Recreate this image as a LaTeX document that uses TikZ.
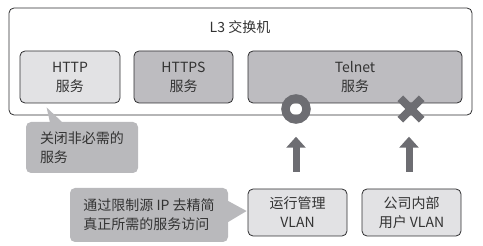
\documentclass[tikz,border=0pt]{standalone}
\usepackage{fontspec}
\setmainfont{Noto Sans CJK SC}
\usepackage{tikz}
\usetikzlibrary{arrows.meta}
\definecolor{boxline}{HTML}{2E2E30}
\definecolor{lightbox}{HTML}{E2E2E4}
\definecolor{darkbox}{HTML}{BDBCC0}
\definecolor{notefill}{HTML}{B9B9BC}
\definecolor{markgray}{HTML}{6D6D72}
\definecolor{textgray}{HTML}{333333}

\begin{document}
\begin{tikzpicture}[x=1pt, y=-1pt,
  label text/.style={font=\fontsize{14}{19}\selectfont, text=textgray},
  service/.style={label text, draw=boxline, line width=0.8pt, rounded corners=5pt,
    minimum height=52pt, align=center, inner sep=0pt},
  vlanbox/.style={label text, draw=boxline, line width=0.8pt, rounded corners=5pt,
    fill=lightbox, minimum width=99pt, minimum height=47pt, align=center, inner sep=0pt},
  note/.style={label text, fill=notefill, rounded corners=5pt, align=left, inner sep=0pt},
  bigarrow/.style={markgray, line width=7pt, -{Triangle[width=19pt, length=11pt]}},
  cross/.style={markgray, line width=8pt}]
  \useasboundingbox (0,0) rectangle (483,246);

  % Switch and its services
  \node[draw=boxline, line width=0.8pt, rounded corners=5pt, minimum width=463pt,
    minimum height=107pt] (switch) at (240.5,61.5) {};
  \node[label text] (title) at (240,27) {L3 交换机};
  \node[service, fill=lightbox, minimum width=100pt] (http) at (70,77) {HTTP\\服务};
  \node[service, fill=darkbox, minimum width=99pt] (https) at (183.5,77) {HTTPS\\服务};
  \node[service, fill=darkbox, minimum width=214pt] (telnet) at (355,77) {Telnet\\服务};

  % Callouts
  \node[note, minimum width=112pt, minimum height=51pt] (note1) at (82,147.5)
    {关闭非必需的\\服务};
  \fill[notefill] ([xshift=24pt]note1.north west) -- ([xshift=27pt, yshift=-4pt]http.south west)
    -- ([xshift=36pt]note1.north west) -- cycle;
  \node[note, minimum width=158pt, minimum height=54pt] (note2) at (149,215)
    {通过限制源 IP 去精简\\真正所需的服务访问};

  % VLANs
  \node[vlanbox] (mgmt) at (297.5,212.5) {运行管理\\VLAN};
  \node[vlanbox] (users) at (411.5,212.5) {公司内部\\用户 VLAN};
  \fill[notefill] ([yshift=14pt]note2.east) -- ([xshift=-1pt, yshift=1.5pt]mgmt.west)
    -- ([yshift=-7pt]note2.east) -- cycle;

  % Allowed / denied marks
  \node[circle, draw=markgray, line width=8.5pt, minimum size=21pt, inner sep=0pt] (okmark) at (296,109) {};
  \node[minimum size=21pt, inner sep=0pt] (nomark) at (411,109) {};
  \draw[cross] (nomark.north west) -- (nomark.south east)
    (nomark.north east) -- (nomark.south west);

  % Access arrows
  \coordinate (okfoot) at (296,172);
  \coordinate (nofoot) at (409,172);
  \draw[bigarrow, shorten >=13pt] (okfoot) -- (okmark);
  \draw[bigarrow, shorten >=17pt] (nofoot) -- (nofoot |- nomark.south);
\end{tikzpicture}
\end{document}
